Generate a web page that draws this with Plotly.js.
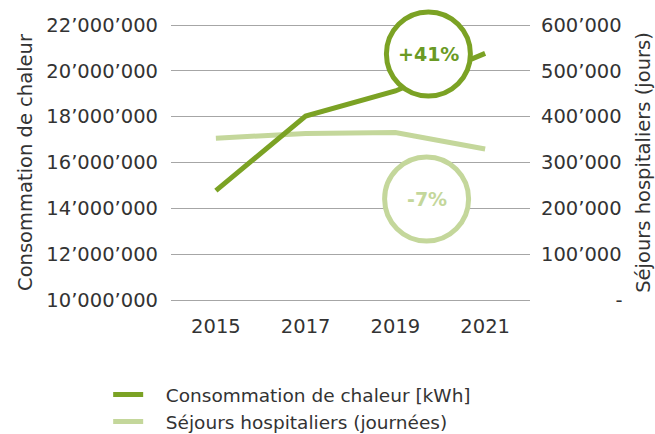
<!DOCTYPE html>
<html>
<head>
<meta charset="utf-8">
<script src="https://cdn.plot.ly/plotly-3.0.1.min.js"></script>
<style>html,body{margin:0;padding:0;background:#fff;width:655px;height:434px;overflow:hidden}#chart{width:655px;height:441px}</style>
</head>
<body>
<div id="chart"></div>
<script>
var years = ["2015", "2017", "2019", "2021"];
var heatKWh = [14770000, 18030000, 19120000, 20760000];
var staysDays = [353000, 363500, 365500, 329500];
var heatTickVals = [10000000, 12000000, 14000000, 16000000, 18000000, 20000000, 22000000];
var heatTickText = ["10’000’000", "12’000’000", "14’000’000", "16’000’000", "18’000’000", "20’000’000", "22’000’000"];
var staysTickVals = [0, 100000, 200000, 300000, 400000, 500000, 600000];
var staysTickText = ["\u2007\u2007\u2007\u2007\u2007\u2007-", "100’000", "200’000", "300’000", "400’000", "500’000", "600’000"];
var heatName = "Consommation de chaleur [kWh]";
var staysName = "Séjours hospitaliers (journées)";
var heatChange = "+41%";
var staysChange = "-7%";

var dark = "#7ba224";
var light = "#c4d79b";
var font = "DejaVu Sans, sans-serif";

var traces = [
  {x: years, y: staysDays, type: "scatter", mode: "lines", name: "\u00a0\u00a0\u00a0" + staysName,
   line: {color: light, width: 5}, yaxis: "y", legendrank: 2, hoverinfo: "skip"},
  {x: years, y: heatKWh, type: "scatter", mode: "lines", name: "\u00a0\u00a0\u00a0" + heatName,
   line: {color: dark, width: 5}, yaxis: "y2", legendrank: 1, hoverinfo: "skip"}
];

// grid spans 25px..300px; the axes get 2px of slack at each end so the edge grid lines are kept
var figH = 441;
var padPx = 2;
var plotTop = 25 - padPx, plotBottom = 300 + padPx;
var domainBottom = (figH - plotBottom) / (figH - plotTop);
var staysPad = 600000 / 275 * padPx;
var heatPad = 12000000 / 275 * padPx;

var layout = {
  width: 655, height: figH,
  margin: {l: 171, r: 125, t: plotTop, b: 0},
  paper_bgcolor: "#fff", plot_bgcolor: "#fff",
  font: {family: font, size: 19.5, color: "#333"},
  showlegend: true,
  legend: {x: -0.175, y: 0, xanchor: "left", yanchor: "bottom",
           font: {size: 18.5, color: "#333"}, bgcolor: "rgba(0,0,0,0)", tracegroupgap: 0},
  xaxis: {type: "category", range: [-0.5, 3.5], showgrid: false, zeroline: false, showline: false,
          ticks: "", tickfont: {size: 19.5}, ticklabelstandoff: 10, automargin: false},
  yaxis: {side: "right", domain: [domainBottom, 1], range: [-staysPad, 600000 + staysPad],
          tickvals: staysTickVals, ticktext: staysTickText,
          showgrid: true, gridcolor: "#a6a6a6", gridwidth: 1, zeroline: false, showline: false,
          ticks: "", ticklabelstandoff: 10, automargin: false,
          title: {text: "Séjours hospitaliers (jours)", standoff: 14, font: {size: 19.5}}},
  yaxis2: {side: "left", overlaying: "y", range: [10000000 - heatPad, 22000000 + heatPad],
           tickvals: heatTickVals, ticktext: heatTickText,
           showgrid: false, zeroline: false, showline: false, ticks: "", ticklabelstandoff: 12, automargin: false,
           title: {text: "Consommation de chaleur", standoff: 8, font: {size: 19.5}}},
  shapes: [
    {type: "circle", xref: "x domain", yref: "y domain", xsizemode: "pixel", ysizemode: "pixel",
     xanchor: 0.717, yanchor: (plotBottom - 54) / (plotBottom - plotTop), x0: -42, x1: 42, y0: -42, y1: 42,
     line: {color: dark, width: 5}, fillcolor: "#fff", layer: "above"},
    {type: "circle", xref: "x domain", yref: "y domain", xsizemode: "pixel", ysizemode: "pixel",
     xanchor: 0.712, yanchor: (plotBottom - 199) / (plotBottom - plotTop), x0: -42, x1: 42, y0: -42, y1: 42,
     line: {color: light, width: 5}, fillcolor: "#fff", layer: "above"}
  ],
  annotations: [
    {xref: "x domain", yref: "y domain", x: 0.717, y: (plotBottom - 54) / (plotBottom - plotTop),
     xanchor: "center", yanchor: "middle",
     text: "<b>" + heatChange + "</b>", showarrow: false,
     font: {size: 19, color: "#6a9a24", family: font}},
    {xref: "x domain", yref: "y domain", x: 0.712, y: (plotBottom - 199) / (plotBottom - plotTop),
     xanchor: "center", yanchor: "middle",
     text: "<b>" + staysChange + "</b>", showarrow: false,
     font: {size: 19, color: light, family: font}}
  ]
};

Plotly.newPlot("chart", traces, layout, {displayModeBar: false, staticPlot: true});
</script>
</body>
</html>
